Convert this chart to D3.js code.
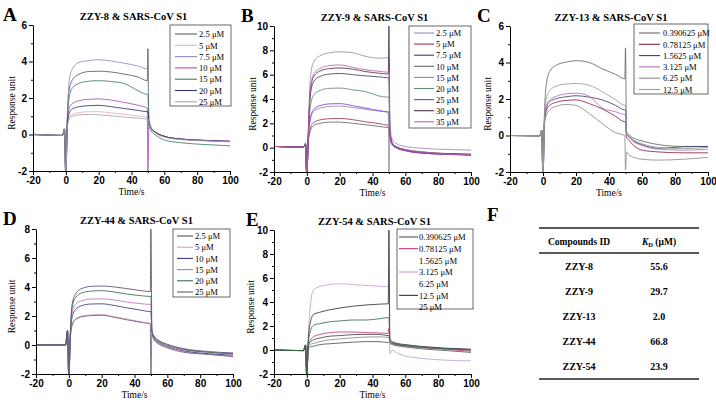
<!DOCTYPE html>
<html>
<head>
<meta charset="utf-8">
<style>
body { margin: 0; background: #fff; }
svg { display: block; font-family: "Liberation Serif", "Times New Roman", serif; }
.tick text { font-weight: bold; font-size: 10px; fill: #000; }
</style>
</head>
<body>
<svg id="fig" width="716" height="405"></svg>
<script src="https://d3js.org/d3.v7.min.js"></script>
<script>
// sample times (s) shared by every sensorgram
var timeS = [-20, -2, -0.8, 0, 0.8, 2, 4, 8, 14, 20, 28, 36, 44, 49.6, 50, 50.6, 52, 55, 60, 70, 85, 100];

// A  ZZY-8
var concA = ["2.5 μM", "5 μM", "7.5 μM", "10 μM", "15 μM", "20 μM", "25 μM"];
var respA = [
  [0, -0.05, 0.3, -2.5, 0.5, 2.4, 3.0, 3.3, 3.45, 3.47, 3.42, 3.3, 3.15, 2.95, 4.7, 0.7, 0.35, 0.1, -0.1, -0.25, -0.33, -0.38],
  [0, -0.05, 0.3, -2.5, 0.3, 0.95, 1.1, 1.2, 1.25, 1.25, 1.18, 1.1, 1.02, 0.95, 0.95, 0.7, 0.35, 0.1, -0.1, -0.25, -0.32, -0.36],
  [0.02, -0.05, 0.35, -2.5, 0.6, 2.9, 3.6, 3.95, 4.05, 4.1, 4.02, 3.9, 3.75, 3.6, 3.6, 0.75, 0.35, 0.1, -0.1, -0.25, -0.33, -0.38],
  [0, -0.05, 0.3, -2.5, 0.4, 1.4, 1.7, 1.85, 1.93, 1.95, 1.88, 1.75, 1.6, 1.45, -2.2, 0.7, 0.35, 0.1, -0.1, -0.25, -0.32, -0.37],
  [0, -0.05, 0.3, -2.5, 0.5, 2.0, 2.55, 2.8, 2.92, 2.95, 2.9, 2.78, 2.4, 2.2, 2.2, 0.5, 0.2, -0.05, -0.3, -0.45, -0.55, -0.62],
  [0, -0.05, 0.3, -2.5, 0.35, 1.15, 1.4, 1.52, 1.58, 1.6, 1.52, 1.42, 1.32, 1.25, 1.25, 0.7, 0.35, 0.1, -0.1, -0.25, -0.33, -0.38],
  [0, -0.05, 0.3, -2.5, 0.3, 0.85, 1.0, 1.08, 1.1, 1.08, 1.02, 0.95, 0.9, 0.85, 0.85, 0.65, 0.3, 0.05, -0.15, -0.28, -0.35, -0.4]
];

// B  ZZY-9
var concB = ["2.5 μM", "5 μM", "7.5 μM", "10 μM", "15 μM", "20 μM", "25 μM", "30 μM", "35 μM"];
var respB = [
  [0.1, 0.05, 0.4, -2.5, 1.0, 5.5, 7.0, 7.55, 7.8, 7.88, 7.8, 7.5, 7.35, 7.4, 7.3, 1.8, 0.7, 0.3, 0.1, -0.05, -0.15, -0.2],
  [0.1, 0.05, 0.3, -2.5, 0.4, 1.5, 2.05, 2.28, 2.38, 2.4, 2.3, 2.12, 1.98, 1.85, 1.85, 0.9, 0.25, -0.05, -0.25, -0.45, -0.55, -0.6],
  [0.1, 0.05, 0.3, -2.5, 0.8, 4.1, 5.4, 5.85, 6.05, 6.1, 6.0, 5.9, 5.82, 5.75, 5.75, 1.3, 0.35, 0.0, -0.2, -0.4, -0.52, -0.6],
  [0.1, 0.05, 0.3, -2.5, 0.4, 1.3, 1.8, 2.0, 2.1, 2.1, 2.0, 1.88, 1.75, 1.65, 1.65, 0.9, 0.3, 0.0, -0.2, -0.4, -0.5, -0.55],
  [0.1, 0.05, 0.3, -2.5, 0.5, 2.2, 2.95, 3.25, 3.38, 3.42, 3.3, 3.15, 3.0, 2.9, -2.2, 1.0, 0.3, 0.0, -0.2, -0.4, -0.5, -0.55],
  [0.1, 0.05, 0.3, -2.5, 0.6, 3.2, 4.3, 4.7, 4.88, 4.9, 4.75, 4.6, 4.25, 4.15, 4.15, 1.2, 0.3, 0.0, -0.2, -0.4, -0.52, -0.6],
  [0.1, 0.05, 0.3, -2.5, 0.5, 2.3, 3.1, 3.45, 3.6, 3.62, 3.45, 3.25, 3.05, 2.95, 2.95, 1.0, 0.25, -0.05, -0.25, -0.45, -0.55, -0.62],
  [0.1, 0.05, 0.3, -2.5, 0.8, 4.4, 5.8, 6.3, 6.5, 6.55, 6.45, 6.25, 6.12, 6.05, 10.2, 1.4, 0.4, 0.05, -0.15, -0.35, -0.48, -0.55],
  [0.1, 0.05, 0.3, -2.5, 0.8, 4.6, 6.0, 6.5, 6.75, 6.8, 6.6, 6.4, 6.28, 6.2, 6.2, 1.4, 0.4, 0.05, -0.15, -0.35, -0.5, -0.6]
];

// C  ZZY-13
var concC = ["0.390625 μM", "0.78125 μM", "1.5625 μM", "3.125 μM", "6.25 μM", "12.5 μM"];
var respC = [
  [0, -0.02, 0.3, -2.5, 1.0, 2.8, 3.5, 3.85, 4.02, 4.1, 4.0, 3.65, 3.35, 3.1, 4.8, 0.2, 0.05, -0.15, -0.3, -0.5, -0.6, -0.6],
  [0, -0.02, 0.3, -2.5, 0.6, 1.35, 1.65, 1.82, 1.92, 1.95, 1.75, 1.45, 1.05, 0.75, 0.75, -0.1, -0.25, -0.55, -0.8, -0.9, -0.95, -0.95],
  [0, -0.02, 0.3, -2.5, 0.7, 1.5, 1.85, 2.02, 2.12, 2.18, 2.1, 1.95, 1.65, 1.4, 1.4, 0.1, -0.05, -0.3, -0.5, -0.7, -0.62, -0.6],
  [0, -0.02, 0.3, -2.5, 0.7, 1.6, 1.95, 2.15, 2.28, 2.32, 2.15, 1.5, 1.3, 1.15, 1.15, 0.05, -0.1, -0.35, -0.55, -0.75, -0.8, -0.75],
  [0, -0.02, 0.3, -2.5, 0.5, 1.1, 1.4, 1.6, 1.7, 1.65, 1.2, 0.65, 0.15, 0.0, -1.9, -0.9, -1.05, -1.2, -1.3, -1.35, -1.3, -1.2],
  [0, -0.02, 0.3, -2.5, 0.8, 2.0, 2.45, 2.7, 2.82, 2.85, 2.75, 2.4, 1.95, 1.65, 1.65, 0.15, 0.0, -0.25, -0.45, -0.65, -0.72, -0.65]
];

// D  ZZY-44
var concD = ["2.5 μM", "5 μM", "10 μM", "15 μM", "20 μM", "25 μM"];
var respD = [
  [0, 0.0, 1.0, -2.5, 0.5, 2.8, 3.5, 3.9, 4.05, 4.07, 4.0, 3.88, 3.75, 3.68, 8.0, 1.0, 0.6, 0.3, 0.05, -0.25, -0.45, -0.55],
  [0, 0.0, 1.0, -2.5, 0.3, 1.4, 1.8, 2.0, 2.08, 2.1, 1.95, 1.78, 1.6, 1.5, 1.5, 0.8, 0.4, 0.1, -0.15, -0.45, -0.62, -0.78],
  [0, 0.0, 1.0, -2.5, 0.4, 1.9, 2.45, 2.72, 2.83, 2.84, 2.72, 2.55, 2.4, 2.3, 2.3, 0.85, 0.45, 0.15, -0.1, -0.4, -0.6, -0.7],
  [0, 0.0, 1.0, -2.5, 0.4, 2.2, 2.8, 3.05, 3.17, 3.18, 3.1, 2.95, 2.85, 2.8, 2.8, 0.9, 0.5, 0.2, -0.05, -0.35, -0.5, -0.65],
  [0, 0.0, 1.0, -2.5, 0.5, 2.6, 3.25, 3.6, 3.72, 3.75, 3.65, 3.5, 3.4, 3.35, 3.35, 0.9, 0.55, 0.25, 0.0, -0.3, -0.5, -0.6],
  [0, 0.0, 1.0, -2.5, 0.3, 1.35, 1.75, 1.95, 2.03, 2.05, 1.9, 1.72, 1.56, 1.45, -2.2, 0.75, 0.35, 0.05, -0.2, -0.5, -0.65, -0.8]
];

// E  ZZY-54
var concE = ["0.390625 μM", "0.78125 μM", "1.5625 μM", "3.125 μM", "6.25 μM", "12.5 μM", "25 μM"];
var respE = [
  [0, -0.05, 0.4, -2.5, 0.1, 0.25, 0.32, 0.45, 0.52, 0.58, 0.65, 0.7, 0.7, 0.62, 0.62, 0.55, 0.45, 0.35, 0.25, 0.1, -0.05, -0.2],
  [0, -0.05, 0.4, -2.5, 0.3, 0.8, 1.1, 1.3, 1.45, 1.5, 1.5, 1.45, 1.42, 1.38, 1.8, 0.7, 0.55, 0.45, 0.35, 0.2, 0.05, -0.1],
  [0, -0.05, 0.4, -2.5, 0.3, 0.65, 0.85, 1.0, 1.15, 1.2, 1.28, 1.3, 1.3, 1.2, 1.2, 0.65, 0.55, 0.45, 0.35, 0.22, 0.12, 0.05],
  [0, -0.05, 0.5, -2.5, 0.8, 3.5, 5.0, 5.3, 5.45, 5.52, 5.45, 5.38, 5.32, 5.28, 5.28, -0.3, 0.0, -0.25, -0.5, -0.7, -0.85, -0.9],
  [0, -0.05, 0.4, -2.5, 0.2, 0.45, 0.55, 0.7, 0.85, 0.92, 1.02, 1.08, 1.1, 1.05, 1.05, 0.6, 0.5, 0.4, 0.3, 0.2, 0.1, 0.0],
  [0, -0.05, 0.4, -2.5, 0.6, 2.2, 2.95, 3.15, 3.35, 3.5, 3.65, 3.75, 3.82, 3.85, 10.2, 0.9, 0.7, 0.55, 0.45, 0.3, 0.15, 0.05],
  [0, -0.05, 0.4, -2.5, 0.5, 1.5, 2.05, 2.2, 2.35, 2.42, 2.5, 2.5, 2.6, 2.7, 2.7, 0.8, 0.65, 0.5, 0.4, 0.25, 0.1, 0.0]
];

// F  table
var compounds = ["ZZY-8", "ZZY-9", "ZZY-13", "ZZY-44", "ZZY-54"];
var kdValues = ["55.6", "29.7", "2.0", "66.8", "23.9"];

var svg = d3.select("#fig");

var panels = [
  { key: "A", title: "ZZY-8 & SARS-CoV S1", conc: concA, resp: respA, ymax: 6,
    colors: ["#5c5c5c", "#e6b0b4", "#9188c0", "#b04cb4", "#3f7d5c", "#34346e", "#a8a8a8"],
    l: 33, r: 230, t: 25, b: 171, letterX: 3, ylabX: 12,
    leg: { x: 170, y: 25, w: 61, h: 81, row0: 34, dy: 11.3, lx0: 175, lx1: 197, tx: 199 } },
  { key: "B", title: "ZZY-9 & SARS-CoV S1", conc: concB, resp: respB, ymax: 10,
    colors: ["#988eb4", "#a03454", "#42425e", "#666674", "#8c8c9c", "#5f8c6c", "#8a3ce0", "#52304e", "#c462a8"],
    l: 274, r: 471, t: 26, b: 172, letterX: 241, ylabX: 253,
    leg: { x: 409, y: 26, w: 62, h: 102, row0: 33, dy: 11.1, lx0: 414, lx1: 434, tx: 436 } },
  { key: "C", title: "ZZY-13 & SARS-CoV S1", conc: concC, resp: respC, ymax: 6,
    colors: ["#666666", "#8c2444", "#40406e", "#b46cc0", "#8a8a8a", "#8aa494"],
    l: 510, r: 708, t: 26, b: 172, letterX: 477, ylabX: 488,
    leg: { x: 634, y: 24, w: 74, h: 70, row0: 33, dy: 11.3, lx0: 639, lx1: 660, tx: 663 } },
  { key: "D", title: "ZZY-44 & SARS-CoV S1", conc: concD, resp: respD, ymax: 8,
    colors: ["#5a4a6c", "#d8a0b4", "#3a3a8c", "#c070c4", "#3a6a4c", "#6a5a7c"],
    l: 36, r: 233, t: 229, b: 374, letterX: 3, ylabX: 12,
    leg: { x: 173, y: 229, w: 57, h: 68, row0: 236, dy: 11.2, lx0: 177, lx1: 193, tx: 195 } },
  { key: "E", title: "ZZY-54 & SARS-CoV S1", conc: concE, resp: respE, ymax: 10,
    colors: ["#555555", "#c8347c", "#444444", "#c0a0d4", "#8a8a8a", "#333333", "#3a6a4c"],
    legendLine: [true, true, false, true, false, true, false],
    l: 274, r: 471, t: 230, b: 374, letterX: 246, ylabX: 251,
    leg: { x: 397, y: 229, w: 76, h: 80, row0: 237, dy: 11.67, lx0: 399, lx1: 418, tx: 419 } }
];

panels.forEach(drawPanel);

function drawPanel(p) {
  var x = d3.scaleLinear().domain([-20, 100]).range([p.l, p.r]);
  var y = d3.scaleLinear().domain([-2, p.ymax]).range([p.b, p.t]);
  var plain = function(d) { return String(d); };   // hyphen minus like the original
  var g = svg.append("g");

  g.append("clipPath").attr("id", "clip" + p.key)
    .append("rect").attr("x", p.l).attr("y", p.t).attr("width", p.r - p.l).attr("height", p.b - p.t);

  var line = d3.line()
    .x(function(d, i) { return x(timeS[i]); })
    .y(function(d) { return y(d); })
    .curve(d3.curveMonotoneX);

  g.append("g").attr("clip-path", "url(#clip" + p.key + ")")
    .selectAll("path").data(p.resp).join("path")
    .attr("d", line)
    .attr("fill", "none")
    .attr("stroke", function(d, i) { return p.colors[i]; })
    .attr("stroke-width", 0.85);

  // minor ticks
  g.append("g").attr("transform", "translate(0," + p.b + ")")
    .call(d3.axisBottom(x).tickValues(d3.range(-10, 100, 20)).tickSize(2).tickFormat(""))
    .call(function(s) { s.select(".domain").remove(); });
  g.append("g").attr("transform", "translate(" + p.l + ",0)")
    .call(d3.axisLeft(y).tickValues(d3.range(-1, p.ymax, 2)).tickSize(2).tickFormat(""))
    .call(function(s) { s.select(".domain").remove(); });

  g.append("g").attr("transform", "translate(0," + p.b + ")")
    .call(d3.axisBottom(x).tickValues(d3.range(-20, 101, 20)).tickSize(4).tickSizeOuter(0).tickPadding(2).tickFormat(plain));
  g.append("g").attr("transform", "translate(" + p.l + ",0)")
    .call(d3.axisLeft(y).tickValues(d3.range(-2, p.ymax + 1, 2)).tickSize(4).tickSizeOuter(0).tickPadding(2).tickFormat(plain));

  g.selectAll(".domain, .tick line").attr("stroke", "#000").attr("stroke-width", 1);

  g.append("text").attr("x", (p.l + p.r) / 2 + 2).attr("y", p.t - 5)
    .attr("text-anchor", "middle").attr("font-weight", "bold").attr("font-size", 10.5)
    .text(p.title);
  g.append("text").attr("x", p.letterX).attr("y", p.t - 4)
    .attr("font-weight", "bold").attr("font-size", 19)
    .text(p.key);
  g.append("text").attr("x", (p.l + p.r) / 2).attr("y", p.b + 24)
    .attr("text-anchor", "middle").attr("font-size", 9.5)
    .text("Time/s");
  g.append("text")
    .attr("transform", "translate(" + (p.ylabX + 3) + "," + ((p.t + p.b) / 2 + 5) + ") rotate(-90)")
    .attr("text-anchor", "middle").attr("font-size", 9.5)
    .text("Response unit");

  // legend
  var L = p.leg;
  var lg = g.append("g");
  lg.append("rect").attr("x", L.x).attr("y", L.y).attr("width", L.w).attr("height", L.h)
    .attr("fill", "#fff").attr("stroke", "#444").attr("stroke-width", 0.8);
  var rows = lg.selectAll("g.row").data(p.conc).join("g")
    .attr("transform", function(d, i) { return "translate(0," + (L.row0 + i * L.dy) + ")"; });
  rows.filter(function(d, i) { return !p.legendLine || p.legendLine[i]; })
    .append("line").attr("x1", L.lx0).attr("x2", L.lx1)
    .attr("stroke", function(d) { return p.colors[p.conc.indexOf(d)]; }).attr("stroke-width", 1.1);
  rows.append("text").attr("x", L.tx).attr("y", 3.2).attr("font-size", 8.6)
    .text(function(d) { return d; });
}

// table F
var tbl = svg.append("g");
tbl.append("text").attr("x", 487).attr("y", 221).attr("font-weight", "bold").attr("font-size", 19).text("F");
var tx0 = 539, tx1 = 699;
[[228, 1.4], [253, 1.4], [379, 1.4]].forEach(function(r) {
  tbl.append("line").attr("x1", tx0).attr("x2", tx1).attr("y1", r[0]).attr("y2", r[0])
    .attr("stroke", "#222").attr("stroke-width", r[1]);
});
tbl.append("text").attr("x", 579).attr("y", 245).attr("text-anchor", "middle")
  .attr("font-weight", "bold").attr("font-size", 9.5).text("Compounds ID");
var kdHead = tbl.append("text").attr("x", 659).attr("y", 245).attr("text-anchor", "middle")
  .attr("font-weight", "bold").attr("font-size", 9.5);
kdHead.append("tspan").attr("font-style", "italic").text("K");
kdHead.append("tspan").attr("font-size", 6.5).attr("dy", 2).text("D");
kdHead.append("tspan").attr("dy", -2).text(" (μM)");

var rowY = d3.scaleBand().domain(compounds).range([254, 379]);
tbl.selectAll("text.cid").data(compounds).join("text").attr("class", "cid")
  .attr("x", 579).attr("y", function(d) { return rowY(d) + rowY.bandwidth() / 2 + 3.5; })
  .attr("text-anchor", "middle").attr("font-weight", "bold").attr("font-size", 10).text(function(d) { return d; });
tbl.selectAll("text.kd").data(kdValues).join("text").attr("class", "kd")
  .attr("x", 659).attr("y", function(d, i) { return rowY(compounds[i]) + rowY.bandwidth() / 2 + 3.5; })
  .attr("text-anchor", "middle").attr("font-weight", "bold").attr("font-size", 10).text(function(d) { return d; });
</script>
</body>
</html>
